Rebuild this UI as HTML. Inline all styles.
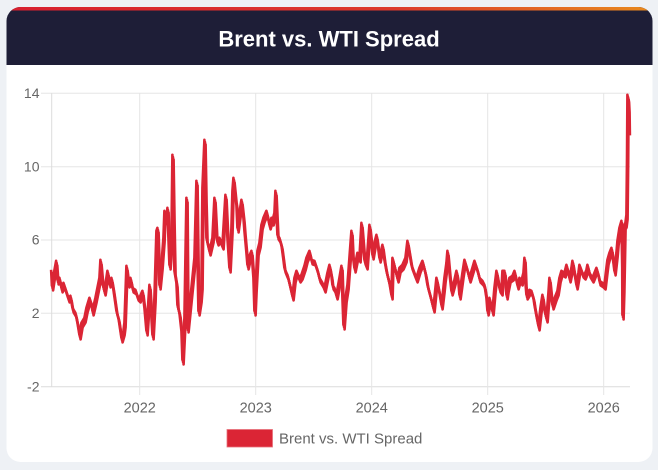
<!DOCTYPE html>
<html><head><meta charset="utf-8"><style>
html,body{margin:0;padding:0;background:#eef1f5;}
body{width:658px;height:470px;overflow:hidden;}
svg{display:block;font-family:"Liberation Sans",Arial,sans-serif;}
</style></head><body>
<svg width="658" height="470" viewBox="0 0 658 470" xmlns="http://www.w3.org/2000/svg" xmlns:xlink="http://www.w3.org/1999/xlink">
<defs>
<clipPath id="card"><rect x="6.5" y="7" width="646" height="455" rx="14" ry="14"/></clipPath>
<linearGradient id="gr" x1="0" x2="1" y1="0" y2="0">
<stop offset="0" stop-color="#d8202f"/><stop offset="0.6" stop-color="#dc3a2c"/><stop offset="1" stop-color="#e88a1e"/>
</linearGradient>
</defs>
<rect x="0" y="0" width="658" height="470" fill="#eef1f5"/>
<rect x="6.5" y="7" width="646" height="455" rx="14" ry="14" fill="#ffffff"/>
<g clip-path="url(#card)">
<rect x="6" y="7" width="647" height="58" fill="#1e1e37"/>
<rect x="6" y="7" width="647" height="3.5" fill="url(#gr)"/>
</g>
<text x="329" y="46.5" text-anchor="middle" font-size="22" font-weight="bold" fill="#ffffff">Brent vs. WTI Spread</text>

<g stroke="#e5e5e5" stroke-width="1" fill="none">
<line x1="41" y1="93.3" x2="630" y2="93.3"/>
<line x1="41" y1="166.7" x2="630" y2="166.7"/>
<line x1="41" y1="240" x2="630" y2="240"/>
<line x1="41" y1="313.3" x2="630" y2="313.3"/>
<line x1="41" y1="386.7" x2="630" y2="386.7" stroke="#dcdcdc"/>
<line x1="51.7" y1="93.3" x2="51.7" y2="386.7" stroke="#dcdcdc"/>
<line x1="139.7" y1="93.3" x2="139.7" y2="395"/>
<line x1="255.7" y1="93.3" x2="255.7" y2="395"/>
<line x1="371.7" y1="93.3" x2="371.7" y2="395"/>
<line x1="487.7" y1="93.3" x2="487.7" y2="395"/>
<line x1="603.7" y1="93.3" x2="603.7" y2="395"/>
</g>
<g font-size="14" fill="#666666" text-anchor="end">
<text x="39.5" y="98">14</text>
<text x="39.5" y="171.4">10</text>
<text x="39.5" y="244.7">6</text>
<text x="39.5" y="318">2</text>
<text x="39.5" y="391.4">-2</text>
</g>
<g font-size="14.5" fill="#666666" text-anchor="middle">
<text x="139.7" y="412.7">2022</text>
<text x="255.7" y="412.7">2023</text>
<text x="371.7" y="412.7">2024</text>
<text x="487.7" y="412.7">2025</text>
<text x="603.7" y="412.7">2026</text>
</g>

<g fill="none" stroke="#db2535" stroke-width="2.6" stroke-linejoin="round">
<polyline id="ln" points="51.7,272 52.5,288 54,278 56.7,263 58,282 60,280 62,290 64,285 66.7,293 69,300 71,298 73,310 76,315 78,325 80,337 82,325 85,320 87,310 90,300 92,306 93,313 96,300 98,290 100,280 101,262 103,285 105,293 108,273 110,285 112,280 114,292 117,313 119,320 122,340 124,333 125,325 127,268 129,285 131,280 133,290 136,292 138,298 140,300 143,293 145,310 147,333 148,318 150,287 152,320 153,337 155,300 157,233 158,230 159,260 160,287 162,267 164,240 165,213 167,222 168,210 169,240 170,267 172,240 173,157 174,220 175,273 177,285 178,307 180,315 182,333 183,362 185,320 187,200 188,330 190,310 193,280 195,260 197,183 198,260 199,313 201,300 202,287 203,190 205,142 206,200 207,240 210,253 213,240 215,200 217,240 218,243 220,240 223,247 226,197 228,240 230,270 232,230 233,193 234,180 236,200 237,207 238,230 240,215 242,202 244,220 245,233 247,255 248,267 250,258 252,253 254,280 255,313 256,290 258,253 260,245 262,227 264,220 267,213 269,222 270,227 272,220 273,223 275,215 276,193 277,215 278,237 280,240 282,247 284,262 285,270 287,275 288,277 290,285 293,298 295,280 297,273 300,280 302,277 305,268 307,260 310,253 312,262 315,263 318,272 320,280 323,285 325,290 328,275 330,267 332,278 333,287 335,290 337,297 340,280 342,268 343,300 344,327 346,300 348,287 350,260 352,233 353,255 355,270 358,255 360,260 362,225 365,262 367,267 370,227 372,245 373,257 375,245 377,237 380,260 383,247 385,262 387,273 390,285 392,297 393,260 396,272 398,280 400,270 403,267 406,260 408,243 410,255 412,267 415,275 417,280 420,270 423,263 426,275 428,287 431,298 434,310 436,290 437,280 440,295 442,307 444,290 445,280 447,265 448,253 450,275 452,293 455,282 457,273 459,285 460,297 463,275 465,262 468,272 470,280 473,270 475,263 478,272 480,280 483,283 485,287 487,300 488,313 490,300 493,313 495,290 497,273 500,290 502,293 503,273 505,273 507,297 508,290 510,280 513,278 515,273 518,287 520,280 522,283 524,275 525,260 526,285 527,297 530,292 532,293 534,300 535,307 537,318 539,328 541,310 543,297 545,312 547,320 549,295 550,280 552,300 553,307 556,298 558,293 560,280 562,273 565,275 567,267 569,275 570,280 572,270 573,263 575,275 577,287 579,275 580,267 583,275 585,277 587,272 588,267 590,275 593,280 595,275 597,270 599,277 600,283 603,285 605,287 607,270 608,262 610,255 612,250 614,265 615,273 617,255 618,243 620,230 622,223 622.8,270 623,317 623.8,290 625,227 626,225 627,217 627.6,160 628,97 628.5,100 629,110 629.3,133"/>
<use href="#ln" xlink:href="#ln" transform="translate(0.6,2.4)"/>
<use href="#ln" xlink:href="#ln" transform="translate(-0.6,-2.2)"/>
</g>

<rect x="227" y="429.5" width="45.5" height="17.5" fill="#db2535" stroke="#e8707a" stroke-width="0.8"/>
<text x="279" y="443.3" font-size="15" fill="#666666">Brent vs. WTI Spread</text>
</svg>
</body></html>
